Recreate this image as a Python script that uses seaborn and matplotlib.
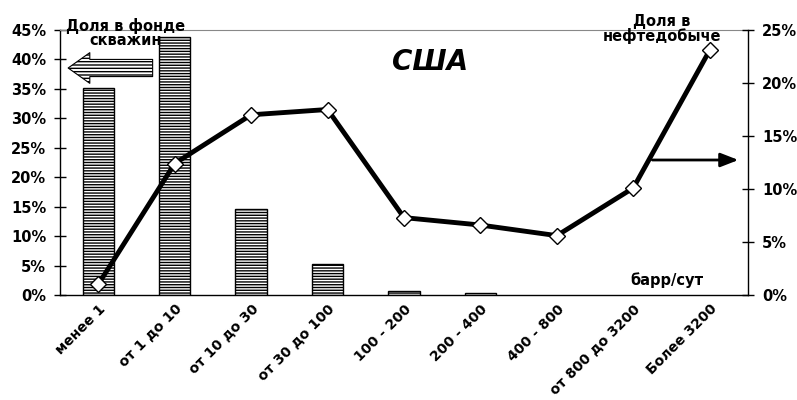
import numpy as np
import pandas as pd
import matplotlib
matplotlib.use('Agg')
import matplotlib.pyplot as plt
import matplotlib.transforms as mtransforms
import seaborn as sns

# Data
categories = ['менее 1', 'от 1 до 10', 'от 10 до 30', 'от 30 до 100', '100 - 200',
              '200 - 400', '400 - 800', 'от 800 до 3200', 'Более 3200']
wells_share = [35.2, 43.8, 14.6, 5.3, 0.7, 0.4, 0.0, 0.0, 0.0]       # % of well stock (left axis)
oil_share = [1.0, 12.4, 17.0, 17.5, 7.3, 6.6, 5.6, 10.1, 23.1]      # % of oil production (right axis)
left_ticks = [0, 5, 10, 15, 20, 25, 30, 35, 40, 45]
right_ticks = [0, 5, 10, 15, 20, 25]

df = pd.DataFrame({'cat': categories, 'wells': wells_share, 'oil': oil_share})

sns.set_style('white', rc={'text.color': 'black', 'xtick.color': 'black',
                           'ytick.color': 'black', 'axes.labelcolor': 'black'})
plt.rcParams['font.family'] = ['DejaVu Sans']
plt.rcParams['font.weight'] = 'bold'
plt.rcParams['hatch.linewidth'] = 1.0

fs = 10.5
fig = plt.figure(figsize=(7.97, 4.0), dpi=100)
ax = fig.add_axes([0.0753, 0.2625, 0.8632, 0.6625])

# Bars: share of wells
sns.barplot(data=df, x='cat', y='wells', color='white', edgecolor='black',
            linewidth=1, width=0.41, saturation=1, ax=ax)
for p in ax.patches:
    p.set_hatch('------')
    if p.get_height() == 0:
        p.set_linewidth(0)

ax.set_ylim(0, 45)
ax.set_xlim(-0.5, len(categories) - 0.5)
ax.set_yticks(left_ticks)
ax.set_yticklabels([f'{t}%' for t in left_ticks], fontsize=fs, fontweight='bold')
ax.set_xticks(np.arange(-0.5, len(categories), 1))
ax.set_xticklabels([])
ax.set_xticks(np.arange(len(categories)), minor=True)
ax.set_xticklabels(categories, minor=True, rotation=45, ha='right',
                   rotation_mode='anchor', fontsize=10, fontweight='bold')
shift = mtransforms.ScaledTranslation(-9 / 100, 0, fig.dpi_scale_trans)
for lbl in ax.get_xticklabels(minor=True):
    lbl.set_transform(lbl.get_transform() + shift)
ax.tick_params(axis='x', which='minor', length=0, pad=5)
ax.tick_params(axis='both', which='major', direction='inout', length=8, width=1, color='black')
ax.tick_params(axis='y', pad=6)
ax.set_xlabel('')
ax.set_ylabel('')
for s in ['left', 'bottom']:
    ax.spines[s].set_color('black')
    ax.spines[s].set_linewidth(1)
ax.spines['top'].set_color('#888888')
ax.spines['top'].set_linewidth(0.8)
ax.spines['right'].set_visible(False)

# Line: share of oil production
ax2 = ax.twinx()
sns.pointplot(data=df, x='cat', y='oil', color='black', markers='D', linestyles='-',
              markersize=8.5, linewidth=3.5, markerfacecolor='white',
              markeredgecolor='black', markeredgewidth=1, ax=ax2)
ax2.set_ylim(0, 25)
ax2.set_xlim(-0.5, len(categories) - 0.5)
ax2.set_yticks(right_ticks)
ax2.set_yticklabels([f'{t}%' for t in right_ticks], fontsize=fs, fontweight='bold')
ax2.tick_params(axis='y', direction='inout', length=8, width=1, color='black', pad=6)
ax2.set_ylabel('')
ax2.set_xlabel('')
for s in ['left', 'bottom', 'top']:
    ax2.spines[s].set_visible(False)
ax2.spines['right'].set_color('black')
ax2.spines['right'].set_linewidth(1)

# Annotations
fig.text(0.157, 0.918, 'Доля в фонде\nскважин', ha='center', va='center',
         fontsize=fs, fontweight='bold', linespacing=0.95)
fig.text(0.54, 0.845, 'США', ha='center', va='center', fontsize=20,
         fontweight='bold', style='italic')
fig.text(0.83, 0.927, 'Доля в\nнефтедобыче', ha='center', va='center',
         fontsize=fs, fontweight='bold', linespacing=0.95)
fig.text(0.837, 0.30, 'барр/сут', ha='center', va='center', fontsize=fs, fontweight='bold')

fig.patches.append(matplotlib.patches.FancyArrowPatch(
    (0.195, 0.83), (0.082, 0.83), transform=fig.transFigure,
    arrowstyle='simple,head_width=1.7,head_length=1.2,tail_width=0.95',
    mutation_scale=13, facecolor='white', edgecolor='black', hatch='-----', lw=0.8))
fig.patches.append(matplotlib.patches.FancyArrowPatch(
    (0.815, 0.60), (0.93, 0.60), transform=fig.transFigure,
    arrowstyle='-|>,head_width=0.35,head_length=0.9', mutation_scale=12,
    color='black', lw=2))

fig.savefig('out.png', dpi=100)
